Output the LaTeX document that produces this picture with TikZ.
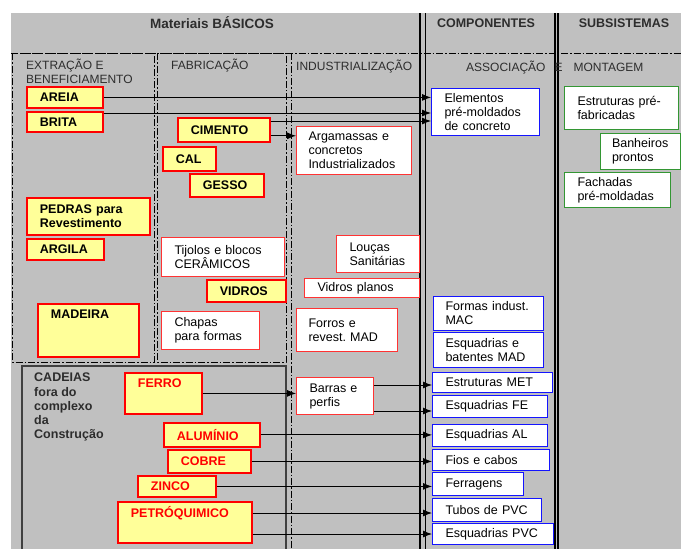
\documentclass[tikz,border=0pt]{standalone}
\usepackage{fontspec}
\setmainfont{Liberation Sans}
\usepackage{tikz}
\usetikzlibrary{arrows.meta}
\definecolor{cbGray}{RGB}{192,192,192}
\definecolor{cbYellow}{RGB}{255,255,153}
\definecolor{cbRed}{RGB}{255,0,0}
\definecolor{cbBlue}{RGB}{20,20,255}
\definecolor{cbGreen}{RGB}{51,150,51}
\definecolor{cbText}{RGB}{45,45,45}

\begin{document}
\begin{tikzpicture}[x=1pt, y=-1pt,
    basebox/.style={anchor=north west, inner xsep=13pt, inner ysep=1pt, align=left,
      font={\fontsize{12.5}{14}\selectfont}},
    matbox/.style={basebox, draw=cbRed, fill=cbYellow, line width=1.8pt,
      font={\fontsize{12.5}{14}\selectfont\bfseries}},
    chainbox/.style={matbox, text=cbRed},
    indbox/.style={basebox, draw=cbRed!80, fill=white, line width=1pt},
    compbox/.style={basebox, draw=cbBlue, fill=white, line width=1pt},
    subbox/.style={basebox, draw=cbGreen, fill=white, line width=1pt},
    head/.style={anchor=base, font={\fontsize{12.5}{14}\selectfont\bfseries}, text=cbText},
    subhead/.style={anchor=base west, inner sep=0pt, font={\fontsize{12}{14}\selectfont}, text=cbText},
    dashdot/.style={line width=1pt, dash pattern=on 7pt off 2pt on 1.5pt off 2pt},
    arr/.style={-{Latex[length=9pt,width=7pt]}, line width=0.9pt}
  ]
  \useasboundingbox (0,0) rectangle (681,549);
  \fill[cbGray] (11,13) rectangle (681,549);

  % frames
  \draw[dashdot] (11,53) -- (681,53);
  \draw[dashdot] (12,53) rectangle (154,362);
  \draw[dashdot] (157,53) rectangle (286,362);
  \draw[dashdot] (291,53) -- (291,549);
  \draw[line width=1.2pt, black!75] (22,549) |- (286,366) -- (286,549);
  \draw[line width=1.2pt] (420,13) -- (420,549) (425.5,13) -- (425.5,549);
  \draw[line width=1.2pt] (555,13) -- (555,549) (558,13) -- (558,549);

  % headings
  \node[head, font={\fontsize{13.5}{14}\selectfont\bfseries}] (matbas) at (212,28) {Materiais BÁSICOS};
  \node[head] (comp) at (486,27.5) {COMPONENTES};
  \node[head] (subsis) at (624,27.5) {SUBSISTEMAS};
  \node[subhead, anchor=north west, align=left] (extr) at (26,58.5) {EXTRAÇÃO E\\BENEFICIAMENTO};
  \node[subhead] (fabr) at (171,69.5) {FABRICAÇÃO};
  \node[subhead] (indus) at (296,70) {INDUSTRIALIZAÇÃO};
  \node[subhead] (assoc) at (466,71) {ASSOCIAÇÃO\hspace{9pt}E\hspace{11pt}MONTAGEM};
  \node[anchor=north west, inner sep=0pt, align=left, text=cbText,
    font={\fontsize{12.5}{14.2}\selectfont\bfseries}] (cadeias) at (34,373)
    {CADEIAS\\fora do\\complexo\\da\\Construção};

  % extracao e beneficiamento
  \node[matbox, text width=50pt, minimum height=21pt] (areia) at (26,86) {AREIA};
  \node[matbox, text width=50pt, minimum height=20pt] (brita) at (26,111) {BRITA};
  \node[matbox, text width=97pt, minimum height=37pt] (pedras) at (26,197) {PEDRAS para\\Revestimento};
  \node[matbox, text width=51pt, minimum height=21pt] (argila) at (26,238) {ARGILA};
  \node[matbox, text width=75pt, text height=14pt, text depth=37pt] (madeira) at (37,303) {MADEIRA};

  % fabricacao
  \node[matbox, text width=66pt, minimum height=24pt] (cimento) at (177,117) {CIMENTO};
  \node[matbox, text width=27pt, minimum height=24pt] (cal) at (162,146) {CAL};
  \node[matbox, text width=48pt, minimum height=23pt] (gesso) at (189,173) {GESSO};
  \node[indbox, text width=97pt, minimum height=39pt] (tijolos) at (161,237) {Tijolos e blocos\\CERÂMICOS};
  \node[matbox, text width=53pt, minimum height=22pt] (vidros) at (206,279) {VIDROS};
  \node[indbox, text width=72pt, minimum height=38pt] (chapas) at (161,311) {Chapas\\para formas};

  % industrializacao
  \node[indbox, text width=91pt, minimum height=48pt, inner xsep=12pt] (argam) at (296,126) {Argamassas e\\concretos\\Industrializados};
  \node[indbox, text width=57pt, minimum height=37pt] (loucas) at (336,235) {Louças\\Sanitárias};
  \node[indbox, text width=89pt, minimum height=19pt] (vplanos) at (304,278) {Vidros planos};
  \node[indbox, text width=77pt, minimum height=43pt, inner xsep=12pt] (forros) at (296,308) {Forros e\\revest.\ MAD};
  \node[indbox, text width=51pt, minimum height=37pt] (barras) at (296,377) {Barras e\\perfis};

  % cadeias fora do complexo
  \node[chainbox, text width=51pt, text height=14pt, text depth=25pt] (ferro) at (124,372) {FERRO};
  \node[chainbox, text width=70pt, minimum height=24pt] (alum) at (163,422) {ALUMÍNIO};
  \node[chainbox, text width=57pt, minimum height=23pt] (cobre) at (167,449) {COBRE};
  \node[chainbox, text width=52pt, minimum height=21pt] (zinco) at (137,475) {ZINCO};
  \node[chainbox, text width=108pt, text height=15pt, text depth=24pt] (petro) at (117,501) {PETRÓQUIMICO};

  % componentes
  \node[compbox, text width=82pt, minimum height=47pt] (elem) at (431,88) {Elementos\\pré-moldados\\de concreto};
  \node[compbox, text width=86pt, minimum height=34pt, inner xsep=12pt] (formas) at (433,296) {Formas indust.\\MAC};
  \node[compbox, text width=86pt, minimum height=35pt, inner xsep=12pt] (esqmad) at (433,332) {Esquadrias e\\batentes MAD};
  \node[compbox, text width=94pt, minimum height=20pt] (estmet) at (432,372) {Estruturas MET};
  \node[compbox, text width=89pt, minimum height=22pt] (esqfe) at (432,395) {Esquadrias FE};
  \node[compbox, text width=89pt, minimum height=22pt] (esqal) at (432,424) {Esquadrias AL};
  \node[compbox, text width=91pt, minimum height=21pt] (fios) at (432,449) {Fios e cabos};
  \node[compbox, text width=65pt, minimum height=23pt] (ferrag) at (432,472) {Ferragens};
  \node[compbox, text width=83pt, minimum height=23pt] (tubos) at (432,498) {Tubos de PVC};
  \node[compbox, text width=95pt, minimum height=21pt] (esqpvc) at (432,523) {Esquadrias PVC};

  % subsistemas
  \node[subbox, text width=88pt, minimum height=43pt] (estpre) at (564,86) {Estruturas pré-\\fabricadas};
  \node[subbox, text width=57pt, minimum height=36pt, inner xsep=11.5pt] (banh) at (600,133) {Banheiros\\prontos};
  \node[subbox, text width=80pt, minimum height=35pt] (fach) at (564,172) {Fachadas\\pré-moldadas};

  % fluxos
  \draw[arr] (areia.east) -- (areia.east -| elem.west);
  \draw[arr] ([yshift=-2pt]brita.north east) -- ([yshift=-2pt]brita.north east -| elem.west);
  \draw[arr] ([yshift=-4pt]cimento.north east) -- ([yshift=-4pt]cimento.north east -| elem.west);
  \draw[arr] ([yshift=7pt]cimento.south east) -- ([yshift=7pt]cimento.south east -| argam.west);
  \draw[arr] (ferro.east) -- (ferro.east -| barras.west);
  \draw[arr] ([yshift=-8pt]barras.north east) -- ([yshift=-8pt]barras.north east -| estmet.west);
  \draw[arr] ([yshift=4pt]barras.south east) -- ([yshift=4pt]barras.south east -| esqfe.west);
  \draw[arr] (alum.east) -- (alum.east -| esqal.west);
  \draw[arr] (cobre.east) -- (cobre.east -| fios.west);
  \draw[arr] (zinco.east) -- (zinco.east -| ferrag.west);
  \draw[arr] ([yshift=-12pt]petro.north east) -- ([yshift=-12pt]petro.north east -| tubos.west);
  \draw[arr] (esqpvc.west -| petro.east) -- (esqpvc.west);
\end{tikzpicture}
\end{document}
